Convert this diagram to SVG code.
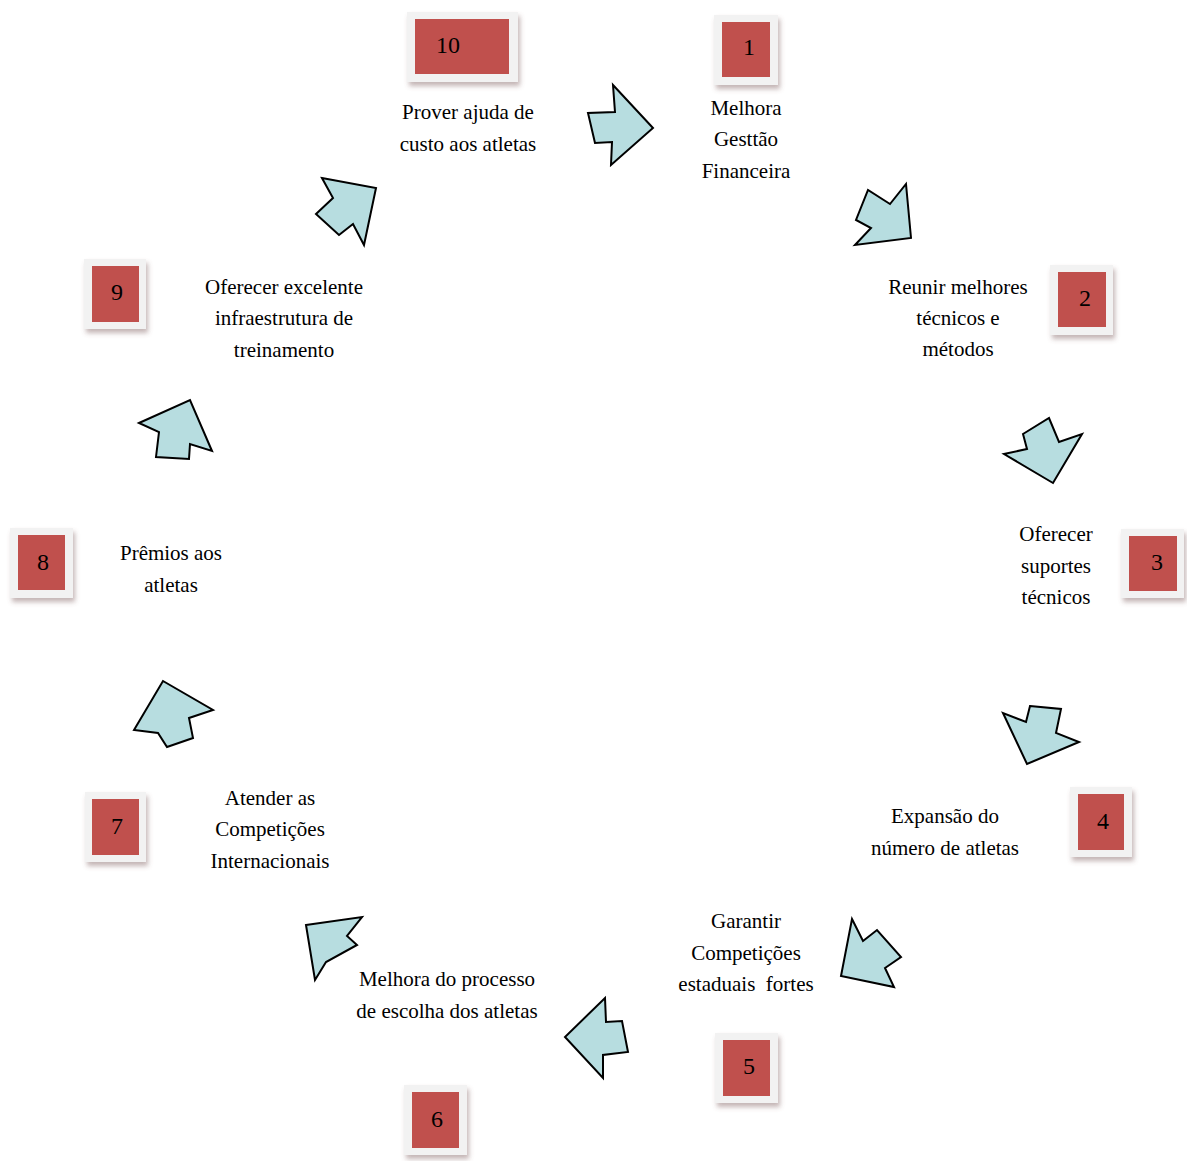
<svg xmlns="http://www.w3.org/2000/svg" width="1187" height="1161" viewBox="0 0 1187 1161">
<defs>
<filter id="sh" x="-20%" y="-20%" width="150%" height="150%">
<feDropShadow dx="2" dy="4" stdDeviation="2.5" flood-color="#7a5a5a" flood-opacity="0.45"/>
</filter>
</defs>
<style>
.frame{fill:#f2f2f2;filter:url(#sh)}
.red{fill:#c0504d}
.num{font-family:"Liberation Serif",serif;font-size:24px;fill:#000;text-anchor:middle}
.lbl{font-family:"Liberation Serif",serif;font-size:21px;fill:#000;text-anchor:middle;white-space:pre}
.arr{fill:#b7dde0;stroke:#000;stroke-width:2;stroke-linejoin:miter}
</style>
<rect width="1187" height="1161" fill="#fff"/>
<g id="connectors">
<polygon class="arr" points="613,85 653,128 611,165 612,142 595,143 588,113 615,112"/>
<polygon class="arr" points="906,184 911,238 855,245 871,228 856,220 868,190 890,204"/>
<polygon class="arr" points="1023,434 1049,418 1059,442 1082,434 1053,483 1004,454 1027,449"/>
<polygon class="arr" points="1030,706 1061,709 1056,733 1079,742 1027,764 1003,713 1026,722"/>
<polygon class="arr" points="852,919 863,941 877,930 901,957 885,968 894,987 841,976"/>
<polygon class="arr" points="605,998 606,1022 622,1021 628,1052 603,1055 603,1078 565,1037"/>
<polygon class="arr" points="306,925 362,917 347,936 357,945 326,962 315,980"/>
<polygon class="arr" points="134,730 163,681 213,710 189,718 193,738 167,747 158,733"/>
<polygon class="arr" points="139,423 190,400 212,451 190,444 189,459 156,457 159,432"/>
<polygon class="arr" points="322,178 376,188 364,245 353,224 339,235 316,214 333,198"/>
</g>
<g id="n10"><rect class="frame" x="407" y="12" width="111" height="70"/><rect class="red" x="415" y="19" width="94" height="55"/><text class="num" x="448" y="53">10</text>
<text class="lbl" x="468" y="119">Prover ajuda de</text><text class="lbl" x="468" y="151">custo aos atletas</text></g>
<g id="n1"><rect class="frame" x="714" y="15" width="64" height="70"/><rect class="red" x="722" y="22" width="48" height="55"/><text class="num" x="749" y="55">1</text>
<text class="lbl" x="746" y="115">Melhora</text><text class="lbl" x="746" y="146">Gesttão</text><text class="lbl" x="746" y="178">Financeira</text></g>
<g id="n2"><rect class="frame" x="1050" y="265" width="63" height="70"/><rect class="red" x="1058" y="272" width="48" height="55"/><text class="num" x="1085" y="306">2</text>
<text class="lbl" x="958" y="294">Reunir melhores</text><text class="lbl" x="958" y="325">técnicos e</text><text class="lbl" x="958" y="356">métodos</text></g>
<g id="n3"><rect class="frame" x="1121" y="529" width="63" height="69"/><rect class="red" x="1129" y="536" width="48" height="55"/><text class="num" x="1157" y="570">3</text>
<text class="lbl" x="1056" y="541">Oferecer</text><text class="lbl" x="1056" y="573">suportes</text><text class="lbl" x="1056" y="604">técnicos</text></g>
<g id="n4"><rect class="frame" x="1070" y="787" width="62" height="70"/><rect class="red" x="1078" y="794" width="46" height="56"/><text class="num" x="1103" y="829">4</text>
<text class="lbl" x="945" y="823">Expansão do</text><text class="lbl" x="945" y="855">número de atletas</text></g>
<g id="n5"><rect class="frame" x="715" y="1033" width="63" height="70"/><rect class="red" x="723" y="1040" width="47" height="56"/><text class="num" x="749" y="1074">5</text>
<text class="lbl" x="746" y="928">Garantir</text><text class="lbl" x="746" y="960">Competições</text><text class="lbl" x="746" y="991" xml:space="preserve">estaduais  fortes</text></g>
<g id="n6"><rect class="frame" x="404" y="1085" width="63" height="70"/><rect class="red" x="412" y="1092" width="47" height="56"/><text class="num" x="437" y="1127">6</text>
<text class="lbl" x="447" y="986">Melhora do processo</text><text class="lbl" x="447" y="1018">de escolha dos atletas</text></g>
<g id="n7"><rect class="frame" x="85" y="792" width="61" height="70"/><rect class="red" x="92" y="799" width="47" height="56"/><text class="num" x="117" y="834">7</text>
<text class="lbl" x="270" y="805">Atender as</text><text class="lbl" x="270" y="836">Competições</text><text class="lbl" x="270" y="868">Internacionais</text></g>
<g id="n8"><rect class="frame" x="10" y="528" width="63" height="70"/><rect class="red" x="18" y="535" width="47" height="55"/><text class="num" x="43" y="570">8</text>
<text class="lbl" x="171" y="560">Prêmios aos</text><text class="lbl" x="171" y="592">atletas</text></g>
<g id="n9"><rect class="frame" x="84" y="259" width="62" height="70"/><rect class="red" x="92" y="266" width="47" height="56"/><text class="num" x="117" y="300">9</text>
<text class="lbl" x="284" y="294">Oferecer excelente</text><text class="lbl" x="284" y="325">infraestrutura de</text><text class="lbl" x="284" y="357">treinamento</text></g>
</svg>
